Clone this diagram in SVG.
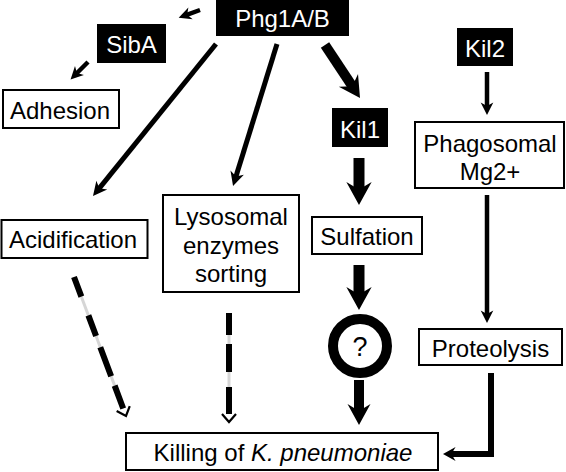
<svg xmlns="http://www.w3.org/2000/svg" width="566" height="472" viewBox="0 0 566 472">
<defs>
<style>
.bk{fill:#000}
.wb{fill:#fff;stroke:#000;stroke-width:2}
text{font-family:"Liberation Sans",Arial,Helvetica,sans-serif;font-size:24px;text-anchor:middle;fill:#000}
.wt{fill:#fff}
.ln{fill:none;stroke:#000;stroke-linejoin:miter}
.thk{marker-end:url(#hThick)}
.med{marker-end:url(#hMed)}
.dg{fill:none;stroke:#d6d6d6;stroke-width:3}
.ds{fill:none;stroke:#000;stroke-width:6;marker-end:url(#hOpen)}
</style>
<marker id="hThick" viewBox="-2.3 -1.3 2.5 2.6" refX="-1" refY="0" markerWidth="2.5" markerHeight="2.6" orient="auto" markerUnits="strokeWidth" style="overflow:visible">
<path d="M0,0 L-2.1,-1.15 L-1.4,0 L-2.1,1.15 Z" fill="#000"/>
</marker>
<marker id="hMed" viewBox="-3 -1.6 3.2 3.2" refX="-1.4" refY="0" markerWidth="3.2" markerHeight="3.2" orient="auto" markerUnits="strokeWidth" style="overflow:visible">
<path d="M0,0 L-2.8,-1.4 L-2,0 L-2.8,1.4 Z" fill="#000"/>
</marker>
<marker id="hOpen" viewBox="-10 -9 12 18" refX="-8" refY="0" markerWidth="12" markerHeight="18" orient="auto" markerUnits="userSpaceOnUse" style="overflow:visible">
<path d="M-8,-7 L0,0 L-8,7" fill="none" stroke="#000" stroke-width="2.2"/>
</marker>
</defs>

<g id="connectors">
<path class="ln med" stroke-width="4.5" d="M200,10 L184.6,15.6"/>
<path class="ln med" stroke-width="4.5" d="M88,62 L75,75"/>
<path class="ln med" stroke-width="5" d="M216,44 L97.4,190.6"/>
<path class="ln med" stroke-width="5" d="M277,44 L235.1,179.3"/>
<path class="ln thk" stroke-width="10" d="M325,45 L354.5,89.6"/>
<path class="ln thk" stroke-width="11" d="M359,158 L359,194"/>
<path class="ln thk" stroke-width="11" d="M359,265 L359,299"/>
<path class="ln thk" stroke-width="10" d="M359,380 L359,415"/>
<path class="ln med" stroke-width="4.5" d="M487,72 L487,108.7"/>
<path class="ln med" stroke-width="4.5" d="M487,195 L487,316.7"/>
<path class="ln thk" stroke-width="6" d="M491,373 V454 H449"/>
<path class="dg" d="M74,277 L123.2,408.5"/>
<path class="ds" style="stroke-dasharray:21 20 22 12 31 10 26" d="M74,277 L123.2,408.5"/>
<path class="dg" d="M229,313 L229,414"/>
<path class="ds" style="stroke-dasharray:22 9 28 15 27" d="M229,313 L229,414"/>
</g>

<g id="phg1ab"><rect class="bk" x="216" y="0" width="133" height="36"/><text class="wt" x="282.5" y="27">Phg1A/B</text></g>
<g id="siba"><rect class="bk" x="97" y="24" width="69" height="39"/><text class="wt" x="131.5" y="53">SibA</text></g>
<g id="adhesion"><rect class="wb" x="3" y="90" width="116" height="38"/><text x="60" y="119">Adhesion</text></g>
<g id="acidification"><rect class="wb" x="1.5" y="220" width="146" height="38"/><text x="73" y="248">Acidification</text></g>
<g id="lysosomal"><rect class="wb" x="163" y="195" width="136" height="97"/><text x="231" y="225">Lysosomal</text><text x="231" y="254">enzymes</text><text x="231" y="282">sorting</text></g>
<g id="kil1"><rect class="bk" x="332" y="108" width="56" height="39"/><text class="wt" x="360" y="138">Kil1</text></g>
<g id="sulfation"><rect class="wb" x="312" y="217" width="110" height="37"/><text x="367" y="245">Sulfation</text></g>
<g id="unknown"><circle cx="360" cy="346" r="27" fill="#fff" stroke="#000" stroke-width="10"/><text x="360" y="356" style="font-size:27px">?</text></g>
<g id="kil2"><rect class="bk" x="457" y="28" width="56" height="38"/><text class="wt" x="485" y="57">Kil2</text></g>
<g id="phagosomal"><rect class="wb" x="415" y="122" width="149" height="66"/><text x="490" y="152">Phagosomal</text><text x="490" y="180">Mg2+</text></g>
<g id="proteolysis"><rect class="wb" x="419" y="329" width="143" height="36"/><text x="490.5" y="357">Proteolysis</text></g>
<g id="killing"><rect class="wb" x="126" y="433" width="312" height="37"/><text x="283" y="461">Killing of <tspan font-style="italic">K. pneumoniae</tspan></text></g>
</svg>
